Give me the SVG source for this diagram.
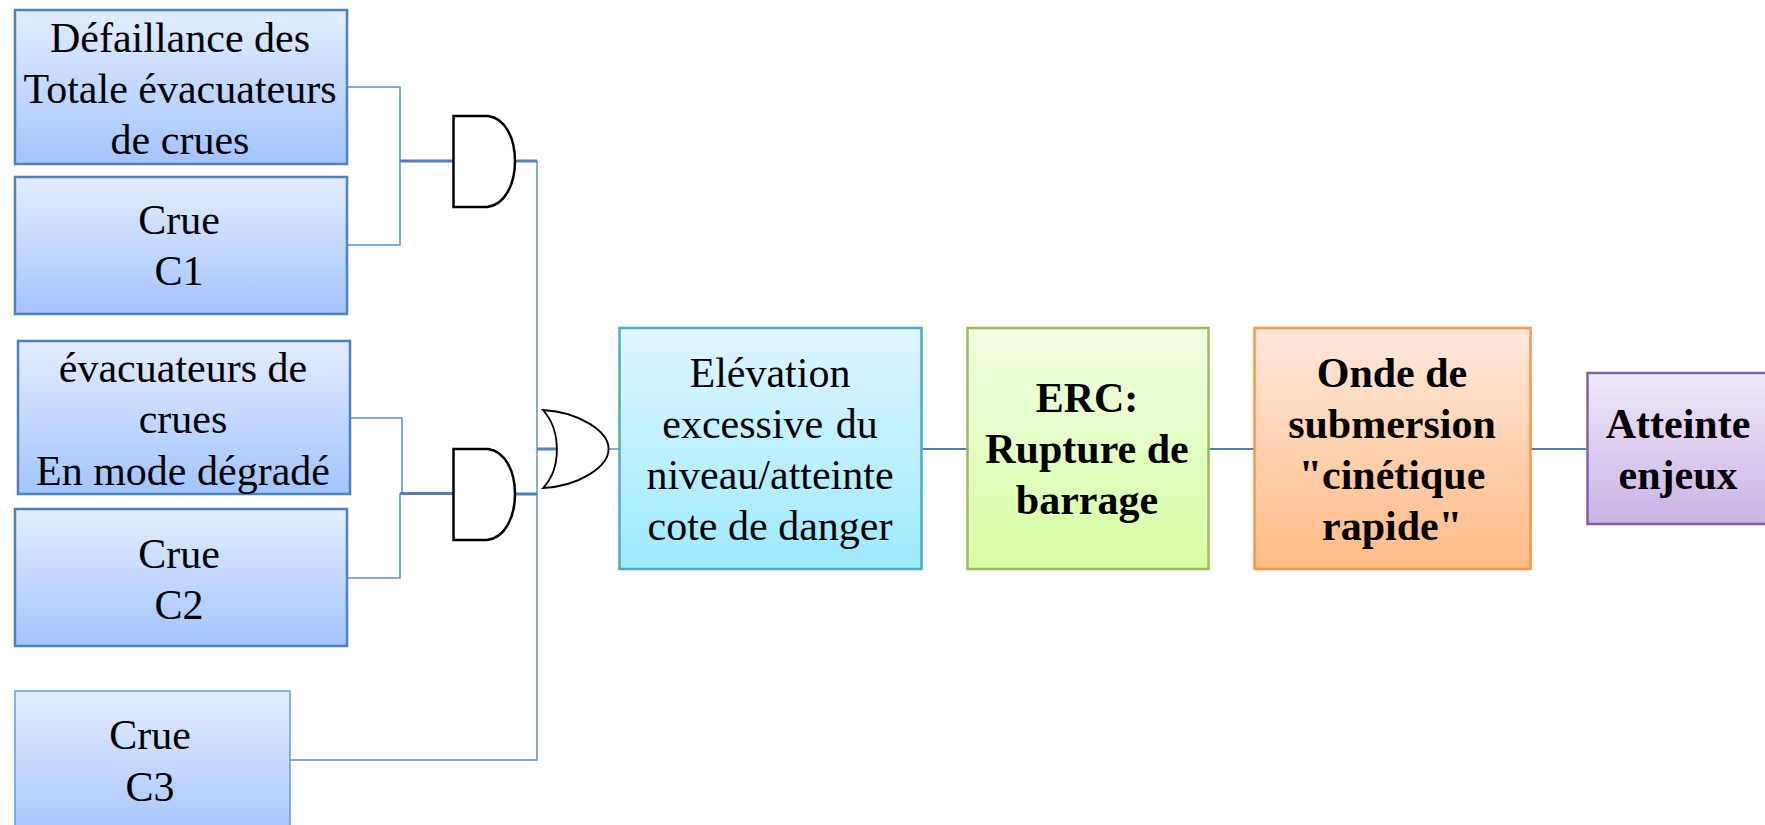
<svg xmlns="http://www.w3.org/2000/svg" width="1765" height="825" viewBox="0 0 1765 825">
<style>
text{font-family:"Liberation Serif","Times New Roman",serif;font-size:42px;fill:#000;text-anchor:middle}
.b{font-weight:bold}
.w{fill:none;stroke:#5f8fc9;stroke-width:1.5}
.t{fill:none;stroke:#4f81bd;stroke-width:3}
.g{fill:#fff;stroke:#000;stroke-width:2.5}
</style>
<defs>
<linearGradient id="blue" x1="0" y1="0" x2="0" y2="1"><stop offset="0" stop-color="#e3edff"/><stop offset="1" stop-color="#a3c4ff"/></linearGradient>
<linearGradient id="cyan" x1="0" y1="0" x2="0" y2="1"><stop offset="0" stop-color="#dff6ff"/><stop offset="1" stop-color="#9eeaff"/></linearGradient>
<linearGradient id="green" x1="0" y1="0" x2="0" y2="1"><stop offset="0" stop-color="#f2ffe3"/><stop offset="1" stop-color="#d7ffa3"/></linearGradient>
<linearGradient id="orange" x1="0" y1="0" x2="0" y2="1"><stop offset="0" stop-color="#ffe9dc"/><stop offset="1" stop-color="#ffbb85"/></linearGradient>
<linearGradient id="purple" x1="0" y1="0" x2="0" y2="1"><stop offset="0" stop-color="#f0e9f9"/><stop offset="1" stop-color="#c9b3e6"/></linearGradient>
</defs>
<g id="connectors">
<path class="w" d="M347 87H400V245H347"/>
<path class="t" d="M400 161H453"/>
<path class="w" d="M350 418H402V493"/>
<path class="w" d="M347 578H400V493"/>
<path class="t" d="M400 493.500H453"/>
<path class="w" d="M537 161V760H290"/>
<path class="t" d="M515 161H537M515 494H537M537 449H560"/>
<path class="w" d="M609 449H619"/>
<path class="t" d="M922 449H967M1209 449H1254M1531 449H1587" style="stroke-width:1.8"/>
</g>
<g id="n1"><rect x="15" y="10" width="332" height="154" fill="url(#blue)" stroke="#4f81bd" stroke-width="2.500"/><text x="180" y="52">Défaillance des</text><text x="180" y="103">Totale évacuateurs</text><text x="180" y="154">de crues</text></g>
<g id="n2"><rect x="15" y="177" width="332" height="137" fill="url(#blue)" stroke="#4f81bd" stroke-width="2.500"/><text x="179" y="234">Crue</text><text x="179" y="285">C1</text></g>
<g id="n3"><rect x="18" y="341" width="332" height="153" fill="url(#blue)" stroke="#4f81bd" stroke-width="2.500"/><text x="183" y="382">évacuateurs de</text><text x="183" y="433">crues</text><text x="183" y="485">En mode dégradé</text></g>
<g id="n4"><rect x="15" y="509" width="332" height="137" fill="url(#blue)" stroke="#4f81bd" stroke-width="2.500"/><text x="179" y="568">Crue</text><text x="179" y="619">C2</text></g>
<g id="n5"><rect x="15" y="691" width="275" height="150" fill="url(#blue)" stroke="#6f9bd1" stroke-width="1.500"/><text x="150" y="749">Crue</text><text x="150" y="801">C3</text></g>
<g id="and1"><path class="g" d="M453.500 116H488C505 118 515 138 515 161C515 184 505 205 487 207H453.500Z"/></g>
<g id="and2"><path class="g" d="M453.500 449H488C505 451 515 471 515 494C515 517 505 538 487 540H453.500Z"/></g>
<g id="or"><path fill="#fff" stroke="#000" stroke-width="1.800" d="M543 410C580 412 609 432 608.500 449C609 466 580 486 543 488C562 468 561 430 543 410Z"/></g>
<g id="n6"><rect x="619.500" y="328" width="302" height="241" fill="url(#cyan)" stroke="#4bacc6" stroke-width="2.500"/><text x="770" y="387">Elévation</text><text x="770" y="438" word-spacing="2">excessive du</text><text x="770" y="489">niveau/atteinte</text><text x="770" y="540">cote de danger</text></g>
<g id="n7"><rect x="967.500" y="328" width="241" height="241" fill="url(#green)" stroke="#9bbb59" stroke-width="2.500"/><text class="b" x="1087" y="412">ERC:</text><text class="b" x="1087" y="463">Rupture de</text><text class="b" x="1087" y="514">barrage</text></g>
<g id="n8"><rect x="1254.500" y="328" width="276" height="241" fill="url(#orange)" stroke="#f79646" stroke-width="2.500"/><text class="b" x="1392" y="387">Onde de</text><text class="b" x="1392" y="438">submersion</text><text class="b" x="1392" y="489">"cinétique</text><text class="b" x="1392" y="540">rapide"</text></g>
<g id="n9"><rect x="1587.500" y="373" width="190" height="151" fill="url(#purple)" stroke="#8064a2" stroke-width="2.500"/><text class="b" x="1678" y="438">Atteinte</text><text class="b" x="1678" y="489">enjeux</text></g>
</svg>
